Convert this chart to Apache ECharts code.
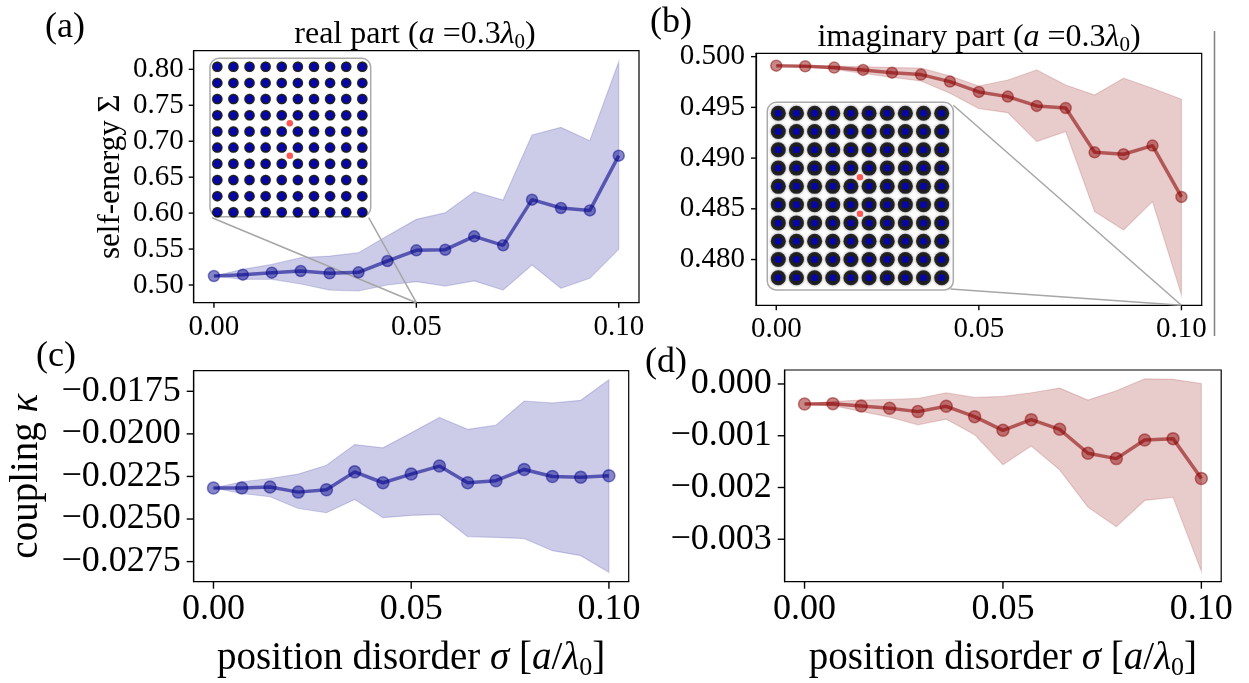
<!DOCTYPE html>
<html>
<head>
<meta charset="utf-8">
<script src="https://cdn.jsdelivr.net/npm/echarts@6/dist/echarts.min.js"></script>
<style>
html, body { margin: 0; padding: 0; background: #fff; }
#main { width: 1249px; height: 683px; }
</style>
</head>
<body>
<div id="main"></div>
<script>
// position disorder sigma [a/lambda0]
var sigma = [0, 0.00714, 0.01429, 0.02143, 0.02857, 0.03571, 0.04286, 0.05, 0.05714, 0.06429, 0.07143, 0.07857, 0.08571, 0.09286, 0.1];

// (a) real part of self-energy
var realMean  = [0.5125, 0.5144, 0.5172, 0.5195, 0.5162, 0.5176, 0.5334, 0.5482, 0.5491, 0.5677, 0.5552, 0.6187, 0.6071, 0.6038, 0.6799];
var realUpper = [0.5125, 0.5218, 0.5287, 0.5380, 0.5403, 0.5450, 0.5686, 0.5913, 0.6006, 0.6298, 0.6182, 0.7086, 0.7193, 0.7007, 0.8106];
var realLower = [0.5125, 0.5079, 0.5079, 0.5014, 0.4930, 0.4917, 0.5000, 0.5046, 0.4986, 0.5056, 0.4930, 0.5278, 0.4954, 0.5093, 0.5496];

// (b) imaginary part of self-energy
var imagMean  = [0.49911, 0.49905, 0.49892, 0.49869, 0.49842, 0.49823, 0.49754, 0.49652, 0.49606, 0.49514, 0.49494, 0.49057, 0.49038, 0.49123, 0.48617];
var imagUpper = [0.49911, 0.49911, 0.49908, 0.49901, 0.49892, 0.49888, 0.49810, 0.49711, 0.49770, 0.49869, 0.49721, 0.49622, 0.49787, 0.49688, 0.49580];
var imagLower = [0.49911, 0.49901, 0.49875, 0.49836, 0.49796, 0.49760, 0.49639, 0.49488, 0.49448, 0.49163, 0.49261, 0.48473, 0.48292, 0.48571, 0.47652];

// (c) coupling, real part
var kapReMean  = [-0.02318, -0.02318, -0.02312, -0.02342, -0.02328, -0.02223, -0.02287, -0.02236, -0.02189, -0.02287, -0.02275, -0.02209, -0.02250, -0.02254, -0.02246];
var kapReUpper = [-0.02318, -0.02281, -0.02262, -0.02236, -0.02184, -0.02063, -0.02082, -0.01994, -0.01904, -0.01973, -0.01949, -0.01807, -0.01818, -0.01803, -0.01682];
var kapReLower = [-0.02318, -0.02350, -0.02369, -0.02438, -0.02463, -0.02385, -0.02492, -0.02479, -0.02473, -0.02604, -0.02608, -0.02615, -0.02686, -0.02715, -0.02813];

// (d) coupling, imaginary part
var kapImMean  = [-0.000386, -0.00038, -0.000425, -0.00047, -0.000534, -0.000431, -0.000631, -0.000895, -0.000689, -0.000876, -0.001339, -0.001442, -0.001082, -0.001056, -0.001828];
var kapImUpper = [-0.000386, -0.00034, -0.00031, -0.00030, -0.00028, -0.00017, -0.00026, -0.00024, -0.00017, -0.00008, -0.00031, -0.00013, 0.00010, 0.00009, 0.00001];
var kapImLower = [-0.000386, -0.00042, -0.00053, -0.00064, -0.00079, -0.00068, -0.00098, -0.00156, -0.00120, -0.00166, -0.00238, -0.00276, -0.00225, -0.00219, -0.00362];

// tick labels
var ticksX = [0, 0.05, 0.1];
var ticksReal = [0.50, 0.55, 0.60, 0.65, 0.70, 0.75, 0.80];
var ticksImag = [0.480, 0.485, 0.490, 0.495, 0.500];
var ticksKapRe = [-0.0275, -0.0250, -0.0225, -0.0200, -0.0175];
var ticksKapIm = [-0.003, -0.002, -0.001, 0];

// inset: 10x10 lattice and the two red emitters
var latticeIdx = [0, 1, 2, 3, 4, 5, 6, 7, 8, 9];
var emitterX = [4.5, 4.5];
var emitterY = [5.5, 3.5];

var FONT = '"Liberation Serif", "DejaVu Serif", serif';
var BLUE = '0,0,139';
var RED = '139,0,0';

function pairs(xs, ys) {
    return xs.map(function (x, i) { return [x, ys[i]]; });
}
function minus(v, d) {
    return (v < 0 ? '\u2212' : '') + Math.abs(v).toFixed(d);
}

var lattice = [];
latticeIdx.forEach(function (i) {
    latticeIdx.forEach(function (j) { lattice.push([i, j]); });
});
var emitters = pairs(emitterX, emitterY);

var rich = {
    n: { fontFamily: FONT, fontSize: 32, lineHeight: 36, color: '#000' },
    i: { fontFamily: FONT, fontSize: 32, lineHeight: 36, fontStyle: 'italic', color: '#000' },
    s: { fontFamily: FONT, fontSize: 21, lineHeight: 21, verticalAlign: 'bottom', color: '#000' }
};
var richBig = {
    n: { fontFamily: FONT, fontSize: 39, lineHeight: 44, color: '#000' },
    i: { fontFamily: FONT, fontSize: 39, lineHeight: 44, fontStyle: 'italic', color: '#000' },
    s: { fontFamily: FONT, fontSize: 26, lineHeight: 26, verticalAlign: 'bottom', color: '#000' }
};

var axisLine = { show: true, onZero: false, lineStyle: { color: '#000', width: 1.2 } };

function mainX(gi, fs, margin, name) {
    var ax = {
        type: 'value', gridIndex: gi, min: -0.005, max: 0.105,
        axisLine: axisLine, splitLine: { show: false }, axisTick: { show: false },
        axisLabel: { customValues: ticksX, formatter: function (v) { return v.toFixed(2); },
                     fontFamily: FONT, fontSize: fs, color: '#000', margin: margin }
    };
    if (name) {
        ax.name = name;
        ax.nameLocation = 'middle';
        ax.nameGap = 55;
        ax.nameTextStyle = { rich: richBig };
    }
    return ax;
}
function mainY(gi, min, max, ticks, dec, fs, margin) {
    return {
        type: 'value', gridIndex: gi, min: min, max: max,
        axisLine: axisLine, splitLine: { show: false }, axisTick: { show: false },
        axisLabel: { customValues: ticks, formatter: function (v) { return minus(v, dec); },
                     fontFamily: FONT, fontSize: fs, color: '#000', margin: margin }
    };
}
function hiddenAxis(gi, min, max) {
    return { type: 'value', gridIndex: gi, min: min, max: max, show: false, splitLine: { show: false } };
}

// shaded spread: one polygon, upper edge forward then lower edge back
function bandSeries(gi, lower, upper, rgb) {
    return {
        type: 'custom', xAxisIndex: gi, yAxisIndex: gi, data: pairs(sigma, upper), z: 1, silent: true,
        renderItem: function (params, api) {
            if (params.dataIndex !== 0) return null;
            var pts = [];
            for (var i = 0; i < sigma.length; i++) pts.push(api.coord([sigma[i], upper[i]]));
            for (var j = sigma.length - 1; j >= 0; j--) pts.push(api.coord([sigma[j], lower[j]]));
            return { type: 'polygon', shape: { points: pts },
                     style: { fill: 'rgba(' + rgb + ',0.2)', stroke: 'rgba(' + rgb + ',0.16)', lineWidth: 1.2 } };
        }
    };
}
function meanSeries(gi, mean, rgb, size) {
    return {
        type: 'line', xAxisIndex: gi, yAxisIndex: gi, data: pairs(sigma, mean),
        symbol: 'circle', symbolSize: size, showSymbol: true, showAllSymbol: true,
        lineStyle: { color: 'rgba(' + rgb + ',0.58)', width: 3.5 },
        itemStyle: { color: 'rgba(' + rgb + ',0.47)', borderColor: 'rgba(' + rgb + ',0.47)', borderWidth: 1.5 },
        z: 3, silent: true
    };
}
function insetSeries(gi, halo, blur, dot) {
    return [
        { type: 'scatter', xAxisIndex: gi, yAxisIndex: gi, data: lattice, symbolSize: halo,
          itemStyle: { color: '#000', shadowBlur: blur, shadowColor: 'rgba(0,0,0,0.55)' }, z: 6, silent: true },
        { type: 'scatter', xAxisIndex: gi, yAxisIndex: gi, data: lattice, symbolSize: dot,
          itemStyle: { color: '#0000cc' }, z: 7, silent: true },
        { type: 'scatter', xAxisIndex: gi, yAxisIndex: gi, data: emitters, symbolSize: 6.5,
          itemStyle: { color: '#ff2b2b' }, z: 7, silent: true }
    ];
}

var frame = { show: true, borderColor: '#000', borderWidth: 1.2, backgroundColor: 'transparent' };
var gridA = { left: 193.7, top: 50.7, width: 445.3, height: 252 };
var gridB = { left: 756, top: 53.3, width: 445.7, height: 252 };
var gridC = { left: 193.7, top: 370.7, width: 435, height: 211 };
var gridD = { left: 784.7, top: 370, width: 436.5, height: 211.7 };
var insetA = { left: 210, top: 58.3, width: 160.7, height: 158.4 };
var insetB = { left: 767.3, top: 102.3, width: 186, height: 187.7 };

var yRange = [[0.4754, 0.8259], [0.47549, 0.50033], [-0.02868, -0.01629], [-0.00382, 0.00027]];
var yTicks = [ticksReal, ticksImag, ticksKapRe, ticksKapIm];

var yA = mainY(0, yRange[0][0], yRange[0][1], ticksReal, 2, 29, 10);
yA.name = 'self-energy \u03a3';
yA.nameLocation = 'middle';
yA.nameRotate = 90;
yA.nameGap = 67;
yA.nameTextStyle = { fontFamily: FONT, fontSize: 31, color: '#000' };

var yC = mainY(2, yRange[2][0], yRange[2][1], ticksKapRe, 4, 36, 13);
yC.name = '{n|coupling }{i|\u03ba}';
yC.nameLocation = 'middle';
yC.nameRotate = 90;
yC.nameGap = 145;
yC.nameTextStyle = { rich: richBig };

var xName = '{n|position disorder }{i|\u03c3}{n| [}{i|a}{n|/}{i|\u03bb}{s|0}{n|]}';

var option = {
    animation: false,
    backgroundColor: '#fff',
    grid: [
        Object.assign({}, gridA, frame),
        Object.assign({}, gridB, frame),
        Object.assign({}, gridC, frame),
        Object.assign({}, gridD, frame),
        Object.assign({ show: false }, insetA),
        Object.assign({ show: false }, insetB)
    ],
    xAxis: [
        mainX(0, 29, 10),
        mainX(1, 29, 10),
        mainX(2, 36, 10, xName),
        mainX(3, 36, 10, xName),
        hiddenAxis(4, -0.453, 9.52),
        hiddenAxis(5, -0.606, 9.64)
    ],
    yAxis: [
        yA,
        mainY(1, yRange[1][0], yRange[1][1], ticksImag, 3, 29, 11),
        yC,
        mainY(3, yRange[3][0], yRange[3][1], ticksKapIm, 3, 36, 13),
        hiddenAxis(4, -0.27, 9.52),
        hiddenAxis(5, -0.67, 9.6)
    ],
    series: [].concat(
        [bandSeries(0, realLower, realUpper, BLUE), meanSeries(0, realMean, BLUE, 11)],
        [bandSeries(1, imagLower, imagUpper, RED), meanSeries(1, imagMean, RED, 11)],
        [bandSeries(2, kapReLower, kapReUpper, BLUE), meanSeries(2, kapReMean, BLUE, 12)],
        [bandSeries(3, kapImLower, kapImUpper, RED), meanSeries(3, kapImMean, RED, 12)],
        insetSeries(4, 10.5, 1, 7.5),
        insetSeries(5, 15, 3, 7)
    )
};

var chart = echarts.init(document.getElementById('main'), null, { renderer: 'canvas' });
chart.setOption(option);

var graphics = [];

// outward tick marks, placed through each grid's own scales
var tickLen = [5, 5, 7, 7];
for (var g = 0; g < 4; g++) {
    ticksX.forEach(function (t) {
        var p = chart.convertToPixel({ gridIndex: g }, [t, yRange[g][0]]);
        graphics.push({ type: 'line', z: 4, shape: { x1: p[0], y1: p[1], x2: p[0], y2: p[1] + tickLen[g] },
                        style: { stroke: '#000', lineWidth: 1.4 } });
    });
    yTicks[g].forEach(function (t) {
        var p = chart.convertToPixel({ gridIndex: g }, [-0.005, t]);
        graphics.push({ type: 'line', z: 4, shape: { x1: p[0] - tickLen[g], y1: p[1], x2: p[0], y2: p[1] },
                        style: { stroke: '#000', lineWidth: 1.4 } });
    });
}

// connectors from the insets to the marked point
var pA = chart.convertToPixel({ gridIndex: 0 }, [0.05, yRange[0][0]]);
var pB = chart.convertToPixel({ gridIndex: 1 }, [0.1, yRange[1][0]]);
var grey = { stroke: '#a6a6a6', lineWidth: 1.5 };

function txt(x, y, text, r) {
    return { type: 'text', x: x, y: y, z: 10,
             style: { text: text, align: 'center', verticalAlign: 'middle', rich: r || rich,
                      font: '30px ' + FONT, fill: '#000' } };
}
var letter = { L: { fontFamily: FONT, fontSize: 36, color: '#000' } };

graphics = graphics.concat([
    { type: 'rect', z: 5, shape: { x: insetA.left, y: insetA.top, width: insetA.width, height: insetA.height, r: 9 },
      style: { fill: '#fff', stroke: '#aaaaaa', lineWidth: 1.5 } },
    { type: 'rect', z: 5, shape: { x: insetB.left, y: insetB.top, width: insetB.width, height: insetB.height, r: 9 },
      style: { fill: '#fff', stroke: '#aaaaaa', lineWidth: 1.5 } },
    { type: 'line', z: 2, shape: { x1: insetA.left + 2, y1: insetA.top + insetA.height + 1, x2: pA[0], y2: pA[1] }, style: grey },
    { type: 'line', z: 2, shape: { x1: insetA.left + insetA.width - 2, y1: insetA.top + insetA.height + 1, x2: pA[0], y2: pA[1] }, style: grey },
    { type: 'line', z: 2, shape: { x1: insetB.left + insetB.width, y1: insetB.top + 3, x2: pB[0], y2: pB[1] }, style: grey },
    { type: 'line', z: 2, shape: { x1: insetB.left + insetB.width - 3, y1: insetB.top + insetB.height - 1, x2: pB[0], y2: pB[1] }, style: grey },
    { type: 'line', z: 2, shape: { x1: 1214.5, y1: 31, x2: 1214.5, y2: 336 }, style: { stroke: '#808080', lineWidth: 1.5 } },
    txt(415, 35, '{n|real part (}{i|a}{n| =0.3}{i|\u03bb}{s|0}{n|)}'),
    txt(979, 38, '{n|imaginary part (}{i|a}{n| =0.3}{i|\u03bb}{s|0}{n|)}'),
    txt(65, 28, '{L|(a)}', letter),
    txt(671, 23, '{L|(b)}', letter),
    txt(56, 357, '{L|(c)}', letter),
    txt(666, 363, '{L|(d)}', letter)
]);

chart.setOption({ graphic: graphics });
</script>
</body>
</html>
